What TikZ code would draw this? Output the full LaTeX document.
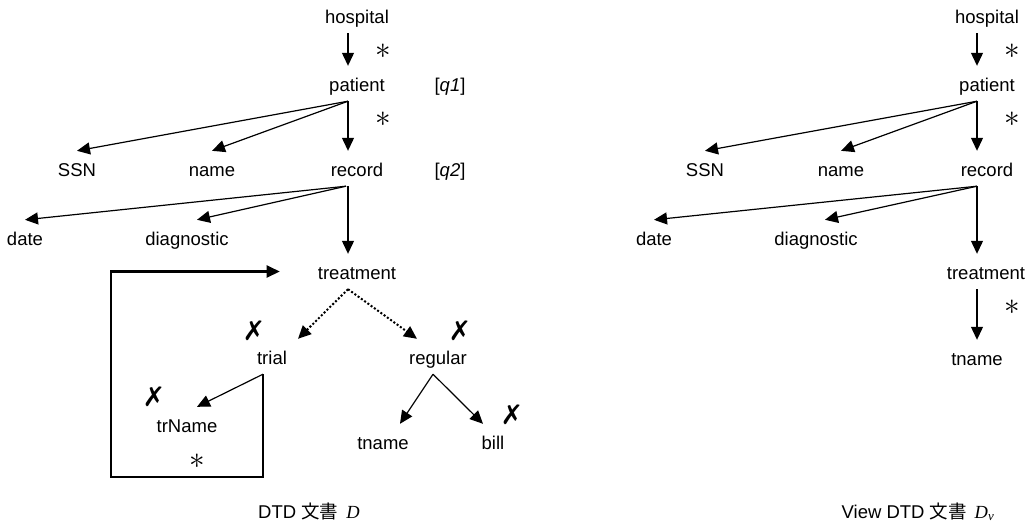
\documentclass[tikz,border=0pt]{standalone}
\usepackage{fontspec}
\usepackage{graphicx}
\setmainfont{Liberation Sans}
\newfontfamily\cjk{Noto Sans CJK JP}
\newfontfamily\dejavu{DejaVu Sans}
\newfontfamily\serif{Liberation Serif}
\usetikzlibrary{arrows.meta}

\newcommand{\mstar}{\scalebox{1.5}{$\ast$}}

\tikzset{
    lbl/.style={anchor=base, inner xsep=2pt, inner ysep=6pt, text height=19pt, text depth=4pt,
        font=\fontsize{18.5}{20}\selectfont},
    star/.style={anchor=center, inner sep=0pt, font=\fontsize{20}{20}\selectfont},
    cross/.style={anchor=center, inner sep=0pt, font=\dejavu\bfseries\fontsize{27}{27}\selectfont},
    edge/.style={->, line width=1.2pt},
    choice/.style={->, line width=2pt, dotted},
    backloop/.style={->, line width=2.2pt}
}

\begin{document}
\begin{tikzpicture}[>={Triangle[length=13pt, width=12pt]}, x=1pt, y=-1pt]
            \useasboundingbox (0, 0) rectangle (1036, 528);
            % DTD D
            \node[lbl] (hos) at (357, 23) {hospital};
            \node[lbl] (pat) at (357, 91) {patient};
            \node[lbl] (q1) at (450, 91) {[\textit{q1}]};
            \node[lbl] (ssn) at (77, 176) {SSN};
            \node[lbl] (nam) at (212, 176) {name};
            \node[lbl] (rec) at (357, 176) {record};
            \node[lbl] (q2) at (450, 176) {[\textit{q2}]};
            \node[lbl] (dat) at (25, 245) {date};
            \node[lbl] (dia) at (187, 245) {diagnostic};
            \node[lbl] (tre) at (357, 279) {treatment};
            \node[lbl] (tri) at (272, 364) {trial};
            \node[lbl] (reg) at (438, 364) {regular};
            \node[lbl] (trn) at (187, 432) {trName};
            \node[lbl] (tna) at (383, 449) {tname};
            \node[lbl] (bil) at (493, 449) {bill};
            \node[star] (s1) at (383, 51) {\mstar};
            \node[star] (s2) at (383, 119) {\mstar};
            \node[star] (s3) at (197, 461) {\mstar};
            \node[cross] (x1) at (254, 331) {✗};
            \node[cross] (x2) at (460, 331) {✗};
            \node[cross] (x3) at (154, 397) {✗};
            \node[cross] (x4) at (512, 415) {✗};
            \draw[edge] ([xshift=-9pt]hos.south) -- ([xshift=-9pt]pat.north);
            \draw[edge] ([xshift=-9pt]pat.south) -- (ssn.north);
            \draw[edge] ([xshift=-9pt]pat.south) -- (nam.north);
            \draw[edge] ([xshift=-9pt]pat.south) -- ([xshift=-9pt]rec.north);
            \draw[edge] ([xshift=-11pt]rec.south) -- (dat.north);
            \draw[edge] ([xshift=-11pt]rec.south) -- ([xshift=10pt]dia.north);
            \draw[edge] ([xshift=-9pt]rec.south) -- ([xshift=-9pt]tre.north);
            \draw[choice] ([xshift=-9pt]tre.south) -- ([xshift=26pt]tri.north);
            \draw[choice] ([xshift=-9pt]tre.south) -- ([xshift=-21pt]reg.north);
            \draw[edge] ([xshift=-9pt]tri.south) -- ([xshift=10pt]trn.north);
            \draw[edge] ([xshift=-5pt]reg.south) -- ([xshift=17pt]tna.north);
            \draw[edge] ([xshift=-5pt]reg.south) -- ([xshift=-10pt]bil.north);
            \draw[backloop] ([xshift=-9pt]tri.south) |- ++(-152, 103) |- ([xshift=-36pt]tre.west);
            \node[lbl] (capd) at (309, 518) {DTD {\cjk 文書}\hspace{8pt}{\serif\itshape D}};
            % view DTD Dv
            \node[lbl] (vhos) at (987, 23) {hospital};
            \node[lbl] (vpat) at (987, 91) {patient};
            \node[lbl] (vssn) at (705, 176) {SSN};
            \node[lbl] (vnam) at (841, 176) {name};
            \node[lbl] (vrec) at (987, 176) {record};
            \node[lbl] (vdat) at (654, 245) {date};
            \node[lbl] (vdia) at (816, 245) {diagnostic};
            \node[lbl] (vtre) at (986, 279) {treatment};
            \node[lbl] (vtna) at (977, 365) {tname};
            \node[star] (vs1) at (1012, 51) {\mstar};
            \node[star] (vs2) at (1012, 119) {\mstar};
            \node[star] (vs3) at (1012, 307) {\mstar};
            \draw[edge] ([xshift=-10pt]vhos.south) -- ([xshift=-10pt]vpat.north);
            \draw[edge] ([xshift=-10pt]vpat.south) -- (vssn.north);
            \draw[edge] ([xshift=-10pt]vpat.south) -- (vnam.north);
            \draw[edge] ([xshift=-10pt]vpat.south) -- ([xshift=-10pt]vrec.north);
            \draw[edge] ([xshift=-10pt]vrec.south) -- (vdat.north);
            \draw[edge] ([xshift=-10pt]vrec.south) -- ([xshift=9pt]vdia.north);
            \draw[edge] ([xshift=-10pt]vrec.south) -- ([xshift=-9pt]vtre.north);
            \draw[edge] ([xshift=-9pt]vtre.south) -- (vtna.north);
            \node[lbl] (capv) at (918, 518) {View DTD {\cjk 文書}\hspace{8pt}{\serif\itshape D\textsubscript{v}}};
        \end{tikzpicture}
\end{document}
